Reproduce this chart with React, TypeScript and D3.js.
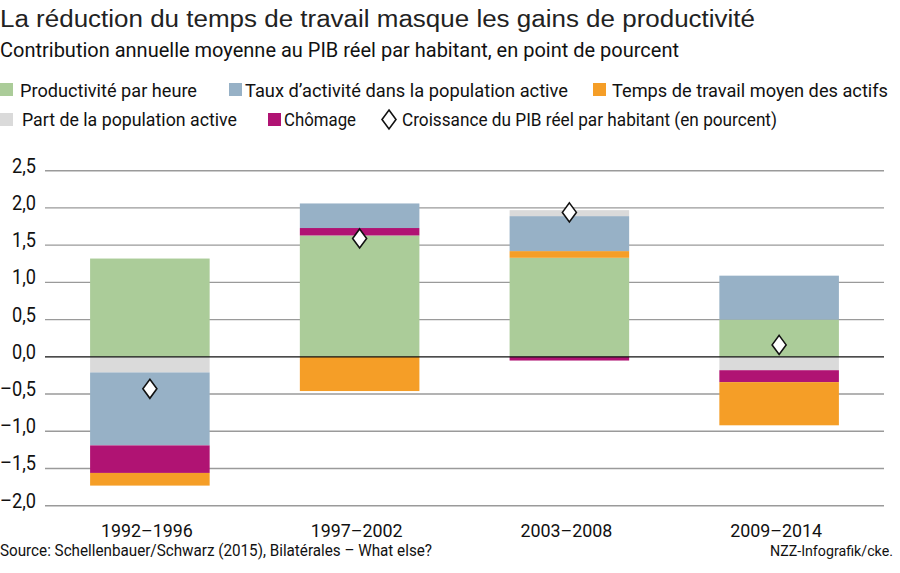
import type { ReactNode } from 'react'
import { scaleBand, scaleLinear } from 'd3'

const periods = ['1992–1996', '1997–2002', '2003–2008', '2009–2014']
const productivite = [1.32, 1.63, 1.33, 0.5]
const tauxActivite = [-0.98, 0.33, 0.47, 0.59]
const tempsTravail = [-0.17, -0.46, 0.09, -0.58]
const partPopulation = [-0.21, 0, 0.08, -0.18]
const chomage = [-0.37, 0.1, -0.05, -0.16]
const croissance = [-0.43, 1.59, 1.94, 0.16]
const yTicks = [-2, -1.5, -1, -0.5, 0, 0.5, 1, 1.5, 2, 2.5]

const seriesNames = [
  'Productivité par heure',
  'Taux d’activité dans la population active',
  'Temps de travail moyen des actifs',
  'Part de la population active',
  'Chômage',
]
const seriesValues = [productivite, tauxActivite, tempsTravail, partPopulation, chomage]
const seriesColors = ['#abcc99', '#97b1c6', '#f59e27', '#dadada', '#b01373']
// stacking order away from zero, differs on each side
const posOrder = [0, 4, 2, 1, 3]
const negOrder = [0, 3, 1, 4, 2]

const width = 900
const height = 573
const condensed = "Roboto, 'Liberation Sans', sans-serif"
const regular = "'Liberation Sans', Arial, sans-serif"

const x = scaleBand<string>().domain(periods).range([45, 884]).paddingInner(0.43).paddingOuter(0.215)
const y = scaleLinear().domain([-2, 2.5]).range([505.7, 170.7])

const fmt = (v: number) => (v < 0 ? '–' : '') + Math.abs(v).toFixed(1).replace('.', ',')

type Seg = { key: string; x: number; y0: number; y1: number; color: string }

function buildSegments(): Seg[] {
  const segs: Seg[] = []
  periods.forEach((p, i) => {
    let pos = 0
    let neg = 0
    posOrder.forEach((s) => {
      const v = seriesValues[s][i]
      if (v > 0) {
        segs.push({ key: `${p}-${s}-p`, x: x(p)!, y0: pos, y1: pos + v, color: seriesColors[s] })
        pos += v
      }
    })
    negOrder.forEach((s) => {
      const v = seriesValues[s][i]
      if (v < 0) {
        segs.push({ key: `${p}-${s}-n`, x: x(p)!, y0: neg, y1: neg + v, color: seriesColors[s] })
        neg += v
      }
    })
  })
  return segs
}

// legend layout: square x, text start, text width (condensed face is faked with textLength)
const legendRow1 = [
  { s: 0, x: 0, tx: 20, w: 177 },
  { s: 1, x: 229, tx: 245, w: 323 },
  { s: 2, x: 593, tx: 612, w: 276 },
]
const legendRow2 = [
  { s: 3, x: 0, tx: 22, w: 215 },
  { s: 4, x: 268, tx: 284, w: 72 },
]

function CText({
  x,
  y,
  w,
  size,
  anchor = 'start',
  children,
}: {
  x: number
  y: number
  w: number
  size: number
  anchor?: 'start' | 'middle' | 'end'
  children: ReactNode
}) {
  return (
    <text
      x={x}
      y={y}
      textAnchor={anchor}
      textLength={w}
      lengthAdjust="spacingAndGlyphs"
      fontFamily={condensed}
      fontSize={size}
      fill="#111"
    >
      {children}
    </text>
  )
}

function Diamond({ cx, cy }: { cx: number; cy: number }) {
  return (
    <path
      d={`M${cx},${cy - 9.5}L${cx + 7},${cy}L${cx},${cy + 9.5}L${cx - 7},${cy}Z`}
      fill="#fff"
      stroke="#111"
      strokeWidth={1.6}
    />
  )
}

export default function App() {
  const segs = buildSegments()
  const bw = x.bandwidth()
  return (
    <div style={{ position: 'absolute', left: 0, top: 0 }}>
      <svg width={width} height={height} viewBox={`0 0 ${width} ${height}`} style={{ display: 'block', background: '#fff' }}>
        <text x={0} y={26.5} fontFamily={regular} fontSize={23} fill="#222" textLength={755} lengthAdjust="spacingAndGlyphs">
          La réduction du temps de travail masque les gains de productivité
        </text>
        <CText x={0} y={57} w={679} size={19.5}>
          Contribution annuelle moyenne au PIB réel par habitant, en point de pourcent
        </CText>

        {legendRow1.map((l) => (
          <g key={l.s}>
            <rect x={l.x} y={83} width={13} height={13} fill={seriesColors[l.s]} />
            <CText x={l.tx} y={96.5} w={l.w} size={18.5}>
              {seriesNames[l.s]}
            </CText>
          </g>
        ))}
        {legendRow2.map((l) => (
          <g key={l.s}>
            <rect x={l.x} y={113} width={13} height={13} fill={seriesColors[l.s]} />
            <CText x={l.tx} y={126} w={l.w} size={18.5}>
              {seriesNames[l.s]}
            </CText>
          </g>
        ))}
        <Diamond cx={389} cy={119.5} />
        <CText x={402} y={126} w={375} size={18.5}>
          Croissance du PIB réel par habitant (en pourcent)
        </CText>

        {yTicks.map((t) => (
          <g key={t}>
            {t !== 0 && <line x1={45} x2={884} y1={y(t)} y2={y(t)} stroke="#9a9a9a" strokeWidth={1.4} />}
            <CText x={36} y={y(t) + 2} w={t < 0 ? 36 : 24} size={20} anchor="end">
              {fmt(t)}
            </CText>
          </g>
        ))}

        {segs.map((s) => (
          <rect
            key={s.key}
            x={s.x}
            y={y(Math.max(s.y0, s.y1))}
            width={bw}
            height={Math.abs(y(s.y0) - y(s.y1))}
            fill={s.color}
          />
        ))}

        <line x1={45} x2={884} y1={y(0)} y2={y(0)} stroke="#111" strokeWidth={1.2} />

        {periods.map((p, i) => (
          <Diamond key={p} cx={x(p)! + bw / 2} cy={y(croissance[i])} />
        ))}

        {periods.map((p) => (
          <CText key={p} x={x(p)! + bw / 2 - 3} y={537} w={92} size={19} anchor="middle">
            {p}
          </CText>
        ))}

        <CText x={0} y={556} w={432} size={16}>
          Source: Schellenbauer/Schwarz (2015), Bilatérales – What else?
        </CText>
        <CText x={770} y={556} w={123} size={15}>
          NZZ-Infografik/cke.
        </CText>
      </svg>
    </div>
  )
}
